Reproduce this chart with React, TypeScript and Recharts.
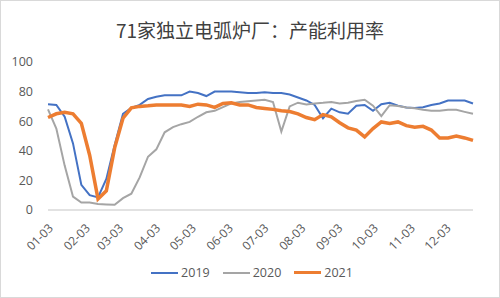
import { CartesianGrid, Legend, Line, LineChart, XAxis, YAxis } from "recharts";

// weekly dates (MM-DD), 52 weeks
const weeks = [
  "01-03", "01-10", "01-17", "01-24", "01-31", "02-07", "02-14", "02-21", "02-28",
  "03-07", "03-14", "03-21", "03-28", "04-04", "04-11", "04-18", "04-25", "05-02",
  "05-09", "05-16", "05-23", "05-30", "06-06", "06-13", "06-20", "06-27", "07-04",
  "07-11", "07-18", "07-25", "08-01", "08-08", "08-15", "08-22", "08-29", "09-05",
  "09-12", "09-19", "09-26", "10-03", "10-10", "10-17", "10-24", "10-31", "11-07",
  "11-14", "11-21", "11-28", "12-05", "12-12", "12-19", "12-26",
];

const tickLabels = [
  "01-03", "02-03", "03-03", "04-03", "05-03", "06-03",
  "07-03", "08-03", "09-03", "10-03", "11-03", "12-03",
];

const yTicks = [0, 20, 40, 60, 80, 100];

const y2019 = [
  71.5, 71, 63, 45, 17, 10, 8.5, 21, 44, 65, 69, 71, 75, 76.5, 77.5, 77.5, 77.5,
  80, 79, 77, 80, 80, 80, 79.5, 79, 79, 79.5, 79, 79, 78, 76, 74, 71, 62, 68.5,
  66, 65, 70.5, 71, 67, 71.5, 72.5, 70.5, 69.3, 69, 69.5, 71, 72, 74, 74, 74, 72,
];

const y2020 = [
  68, 55, 30, 9, 5, 5, 4, 3.7, 3.5, 8, 11, 22, 36, 41, 52.5, 56, 58, 59.5, 63,
  66, 67, 69.5, 72, 73, 73.5, 74, 74.5, 73, 53, 70, 72.5, 71.3, 72, 72.4, 73, 72,
  72.4, 73.6, 74.5, 70.5, 63.4, 70.8, 70.2, 69.3, 68.7, 67.7, 67, 67, 67.7, 67.7,
  66.3, 65,
];

const y2021 = [
  62.5, 65, 66, 65, 58.6, 37, 7.5, 13, 42, 62, 69, 70, 70.4, 71, 71, 71, 71, 70,
  71.5, 71, 69.3, 72, 72.5, 71, 71, 69.3, 68.6, 68, 67, 66.5, 65, 62.5, 61, 64.5,
  63, 59, 55.5, 54, 49.4, 55, 59.5, 58.5, 59.5, 57, 56, 56.5, 54, 48.7, 48.7, 50,
  48.7, 47,
];

const seriesInfo = [
  { key: "y2019", name: "2019", color: "#4472C4", width: 2 },
  { key: "y2020", name: "2020", color: "#A5A5A5", width: 2 },
  { key: "y2021", name: "2021", color: "#ED7D31", width: 3.5 },
];

const monthStart = [0, 31, 59, 90, 120, 151, 181, 212, 243, 273, 304, 334];
const toDay = (md: string) => {
  const [m, d] = md.split("-").map(Number);
  return monthStart[m - 1] + d;
};

const data = weeks.map((w, i) => ({
  day: toDay(w),
  y2019: y2019[i],
  y2020: y2020[i],
  y2021: y2021[i],
}));

const tickDays = tickLabels.map(toDay);
const labelByDay: Record<number, string> = {};
tickDays.forEach((d, i) => (labelByDay[d] = tickLabels[i]));

const FONT = "'Open Sans', 'Noto Sans CJK SC', sans-serif";

function XTick(props: any) {
  const { x, y, payload } = props;
  return (
    <g transform={`translate(${x + 3},${y + 8})`}>
      <text
        x={0}
        y={0}
        dy="0.35em"
        textAnchor="end"
        transform="rotate(-45)"
        fontSize={12}
        fontFamily={FONT}
        fill="#595959"
      >
        {labelByDay[payload.value]}
      </text>
    </g>
  );
}

function ChartLegend() {
  return (
    <div
      style={{
        width: 500,
        display: "flex",
        justifyContent: "center",
        alignItems: "center",
        gap: 13,
        fontFamily: FONT,
        fontSize: 12.5,
        color: "#595959",
        paddingLeft: 4,
        boxSizing: "border-box",
      }}
    >
      {seriesInfo.map((s) => (
        <div key={s.key} style={{ display: "flex", alignItems: "center", gap: 3 }}>
          <span
            style={{
              display: "inline-block",
              width: 27,
              height: s.width,
              background: s.color,
            }}
          />
          <span>{s.name}</span>
        </div>
      ))}
    </div>
  );
}

export default function App() {
  return (
    <div
      style={{
        position: "absolute",
        left: 0,
        top: 0,
        width: 500,
        height: 298,
        background: "#fff",
      }}
    >
      <div
        style={{
          position: "absolute",
          top: 17,
          left: 0,
          width: 500,
          textAlign: "center",
          fontFamily: "'Noto Sans CJK SC', sans-serif",
          fontSize: 19,
          color: "#404040",
          lineHeight: "26px",
          zIndex: 1,
        }}
      >
        71家独立电弧炉厂：产能利用率
      </div>
      <LineChart
        width={500}
        height={298}
        data={data}
        margin={{ top: 62, right: 27, left: 0, bottom: 10 }}
      >
        <CartesianGrid horizontal={false} vertical={false} />
        <XAxis
          dataKey="day"
          type="number"
          domain={[3, 360]}
          ticks={tickDays}
          interval={0}
          tickLine={false}
          axisLine={{ stroke: "#D9D9D9", strokeWidth: 1.5 }}
          tick={<XTick />}
          height={54}
        />
        <YAxis
          domain={[0, 100]}
          ticks={yTicks}
          axisLine={false}
          tickLine={false}
          tickSize={0}
          tickMargin={15}
          width={48}
          tick={{ fontSize: 12.5, fill: "#595959", fontFamily: FONT }}
        />
        <Legend
          verticalAlign="bottom"
          height={24}
          wrapperStyle={{ left: 0, width: 500 }}
          content={<ChartLegend />}
        />
        {seriesInfo.map((s) => (
          <Line
            key={s.key}
            dataKey={s.key}
            name={s.name}
            stroke={s.color}
            strokeWidth={s.width}
            dot={false}
            type="linear"
            isAnimationActive={false}
          />
        ))}
      </LineChart>
      <div
        style={{
          position: "absolute",
          inset: 0,
          border: "1px solid #D9D9D9",
          pointerEvents: "none",
        }}
      />
    </div>
  );
}
